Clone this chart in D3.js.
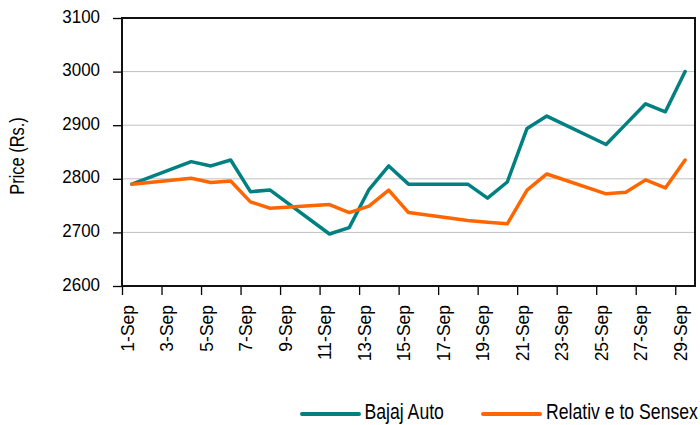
<!DOCTYPE html>
<html><head><meta charset="utf-8">
<script src="https://cdn.jsdelivr.net/npm/d3@7"></script>
<style>html,body{margin:0;padding:0;background:#fff;}</style>
</head><body>
<svg id="c" width="700" height="425"></svg>
<script>
// ---- data ----
const dates = [1,4,5,6,7,8,11,12,13,14,15,18,19,20,21,22,25,26,27,28,29]; // day of September
const bajaj = [2790,2832,2824,2835,2776,2779,2697,2709,2780,2824,2790,2790,2764,2794,2894,2917,2864,2902,2940,2925,3000];
const relSensex = [2790,2801,2793,2796,2757,2745,2752,2737,2749,2779,2737,2722,2719,2716,2779,2809,2772,2775,2798,2783,2835];
const tickDays = [1,3,5,7,9,11,13,15,17,19,21,23,25,27,29];
const tickLabels = ["1-Sep","3-Sep","5-Sep","7-Sep","9-Sep","11-Sep","13-Sep","15-Sep","17-Sep","19-Sep","21-Sep","23-Sep","25-Sep","27-Sep","29-Sep"];
const yTicks = [2600,2700,2800,2900,3000,3100];
const seriesNames = ["Bajaj Auto","Relativ e to Sensex"];
const colors = ["#008080","#FF6600"];

const svg = d3.select("#c");
const L=122, R=695, T=18, B=286;
const font = "'Liberation Sans', Arial, sans-serif";

const x = d3.scaleLinear().domain([0.5,29.5]).range([L,R]);
const y = d3.scaleLinear().domain([2600,3100]).range([B,T]);

// gridlines
svg.append("g").selectAll("line").data(yTicks.slice(1,-1)).join("line")
  .attr("x1",L).attr("x2",R).attr("y1",d=>y(d)).attr("y2",d=>y(d))
  .attr("stroke","#c0c0c0").attr("stroke-width",1);

// y axis ticks
const ya = svg.append("g").attr("transform",`translate(${L},0)`)
  .call(d3.axisLeft(y).tickValues(yTicks).tickSize(9).tickFormat(""));
ya.select(".domain").remove();
ya.selectAll("line").attr("stroke","#000").attr("stroke-width",1.3);
svg.append("g").selectAll("text").data(yTicks).join("text")
  .attr("transform",d=>`translate(100,${y(d)+4.6}) scale(0.97,1)`)
  .attr("text-anchor","end").attr("font-family",font).attr("font-size",17.5).attr("fill","#000")
  .text(d=>d);

// x axis ticks
const xa = svg.append("g").attr("transform",`translate(0,${B})`)
  .call(d3.axisBottom(x).tickValues(tickDays.map(d=>d-0.5)).tickSize(9).tickFormat(""));
xa.select(".domain").remove();
xa.selectAll("line").attr("stroke","#000").attr("stroke-width",1.3);
svg.append("g").selectAll("text").data(tickDays).join("text")
  .attr("transform",d=>`translate(${x(d)+1.8},305) rotate(-90) scale(0.92,1)`)
  .attr("text-anchor","end").attr("font-family",font).attr("font-size",19).attr("fill","#000")
  .text((d,i)=>tickLabels[i]);

// plot border
svg.append("rect").attr("x",L).attr("y",T).attr("width",R-L).attr("height",B-T)
  .attr("fill","none").attr("stroke","#111").attr("stroke-width",2);

// lines
const line = d3.line().x((d,i)=>x(dates[i])).y(d=>y(d));
[bajaj, relSensex].forEach((s,k)=>{
  svg.append("path").datum(s).attr("d",line).attr("fill","none")
    .attr("stroke",colors[k]).attr("stroke-width",3.5)
    .attr("stroke-linejoin","round").attr("stroke-linecap","round");
});

// y title
svg.append("text").attr("transform","translate(24,156) rotate(-90) scale(0.8,1)")
  .attr("text-anchor","middle").attr("font-family",font).attr("font-size",20.5).attr("fill","#000")
  .text("Price (Rs.)");

// legend
const legX = [[302,359,364.5],[483,540,546]];
seriesNames.forEach((n,k)=>{
  svg.append("line").attr("x1",legX[k][0]).attr("x2",legX[k][1]).attr("y1",414).attr("y2",414)
    .attr("stroke",colors[k]).attr("stroke-width",4).attr("stroke-linecap","round");
  svg.append("text").attr("transform",`translate(${legX[k][2]},419) scale(0.82,1)`)
    .attr("font-family",font).attr("font-size",21.5).attr("fill","#000").text(n);
});
</script>
</body></html>
